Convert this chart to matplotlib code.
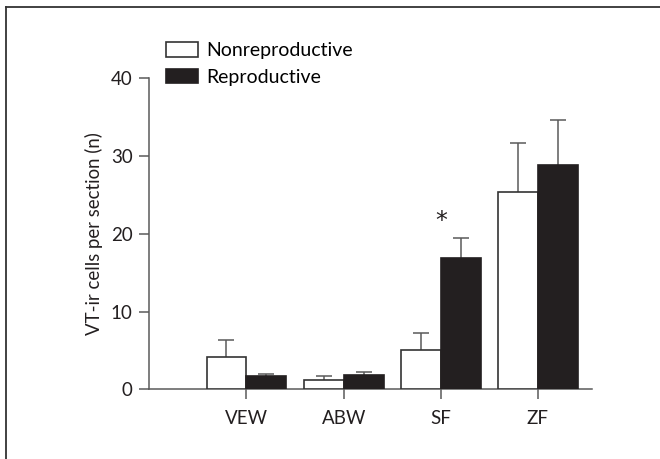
import matplotlib
matplotlib.use("Agg")
import matplotlib.pyplot as plt
from matplotlib.lines import Line2D
import numpy as np

# Data
regions = ["VEW", "ABW", "SF", "ZF"]
nonrepro_mean = [4.1, 1.2, 5.1, 25.4]
nonrepro_err = [2.25, 0.45, 2.2, 6.3]
repro_mean = [1.7, 1.8, 16.9, 28.8]
repro_err = [0.25, 0.4, 2.6, 5.9]
star_region = "SF"
star_y = 21.7

plt.rcParams['font.family'] = ['Lato', 'DejaVu Sans']

W, H = 660, 459
fig = plt.figure(figsize=(W / 100, H / 100), dpi=100)
ax = fig.add_axes([149.3 / W, 1 - 389.3 / H, (591.7 - 149.3) / W, (389.3 - 78.3) / H])

x = np.arange(len(regions))
width = 0.411
edge = '#333333'
black = '#231f20'
grey = '#5a5a5a'

ax.bar(x - width / 2, nonrepro_mean, width, color='white', edgecolor=edge,
       linewidth=1.2, label='Nonreproductive', zorder=3)
ax.bar(x + width / 2, repro_mean, width, color=black, edgecolor=black,
       linewidth=1.2, label='Reproductive', zorder=3)

# upper error bars only
for pos, mean, err in [(x - width / 2, nonrepro_mean, nonrepro_err),
                       (x + width / 2, repro_mean, repro_err)]:
    eb = ax.errorbar(pos, mean, yerr=[np.zeros(len(err)), err], fmt='none',
                     ecolor=grey, elinewidth=1.1, capsize=5.8, capthick=1.1, zorder=2)
    eb[1][0].set_visible(False)

ax.text(regions.index(star_region), star_y, '*', ha='center', va='center',
        fontsize=17, color=black, family='DejaVu Sans')

ax.set_xlim(-1, 3.553)
ax.set_ylim(0, 40)
ax.set_yticks([0, 10, 20, 30, 40])
ax.set_xticks(x)
ax.set_xticklabels(regions)
ax.set_ylabel('VT-ir cells per section (n)', fontsize=13.4, color=black, labelpad=5.5)

for s in ['top', 'right']:
    ax.spines[s].set_visible(False)
for s in ['left', 'bottom']:
    ax.spines[s].set_color(grey)
    ax.spines[s].set_linewidth(1.1)
ax.tick_params(axis='both', direction='out', length=7, width=1.1, color=grey,
               labelsize=13.5, labelcolor=black)
ax.tick_params(axis='y', pad=5)
ax.tick_params(axis='x', pad=8)

ax.legend(loc='upper left', bbox_to_anchor=(166 / W, 1 - 42 / H),
          bbox_transform=fig.transFigure, frameon=False, fontsize=14,
          handlelength=1.65, handleheight=0.78, handletextpad=0.4,
          labelspacing=0.5, borderpad=0, borderaxespad=0)

# frame around the figure (left and top edges visible)
fig.add_artist(Line2D([5.5 / W, 5.5 / W], [0, 1 - 7.3 / H], transform=fig.transFigure,
                      color=edge, linewidth=1.3))
fig.add_artist(Line2D([5.5 / W, 1], [1 - 7.3 / H, 1 - 7.3 / H], transform=fig.transFigure,
                      color=edge, linewidth=1.3))

fig.savefig('out.png', dpi=100)
